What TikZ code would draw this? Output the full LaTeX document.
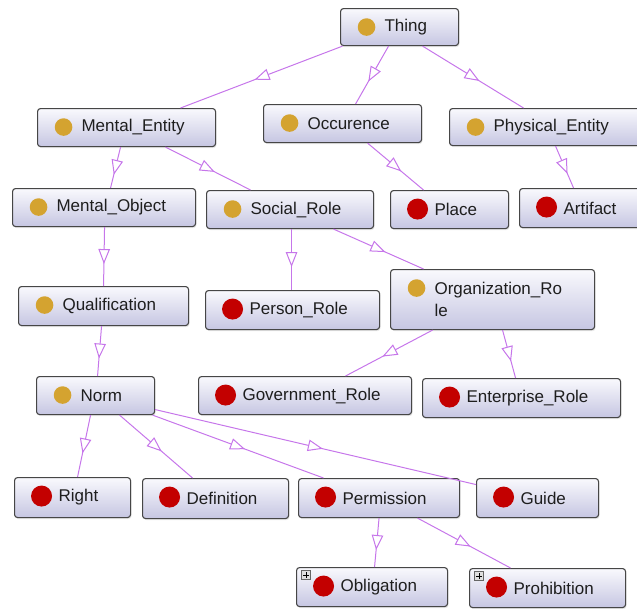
\documentclass[tikz,border=0pt]{standalone}
\usepackage{fontspec}
\setmainfont{Liberation Sans}
\usepackage{tikz}
\usetikzlibrary{arrows.meta, decorations.markings, shadows}
\definecolor{ontoedge}{RGB}{70,70,70}
\definecolor{ontotop}{RGB}{249,249,253}
\definecolor{ontobottom}{RGB}{198,198,226}
\definecolor{isaviolet}{RGB}{198,118,234}
\definecolor{classgold}{RGB}{212,163,48}
\definecolor{indivred}{RGB}{195,0,0}
\definecolor{ontotext}{RGB}{30,30,30}

\tikzset{
  ontobox/.style={rectangle, rounded corners=3pt, draw=ontoedge, line width=1.1pt,
    top color=ontotop, bottom color=ontobottom, anchor=north west,
    drop shadow={opacity=0.18, shadow xshift=1pt, shadow yshift=-1.5pt},
    minimum width=#1, text width=#1, inner xsep=0pt, inner ysep=2pt, minimum height=38pt,
    text=ontotext, font=\fontsize{17}{22}\selectfont,
    execute at begin node={\leftskip=44pt\rightskip=0pt plus 1fil}},
  concept/.style={ontobox=#1, path picture={
      \fill[classgold] ([xshift=26pt,yshift=-18.5pt]path picture bounding box.north west) circle (8.8pt);}},
  indiv/.style={ontobox=#1, path picture={
      \fill[indivred] ([xshift=27pt,yshift=-18.5pt]path picture bounding box.north west) circle (10.5pt);}},
  indivplus/.style={ontobox=#1, path picture={
      \fill[indivred] ([xshift=27pt,yshift=-18.5pt]path picture bounding box.north west) circle (10.5pt);
      \draw[sharp corners, gray!80!black, fill=gray!25, line width=0.7pt] ([xshift=5pt,yshift=-3pt]path picture bounding box.north west) rectangle ++(9pt,-9pt);
      \draw[sharp corners, black, line width=0.9pt] ([xshift=9.5pt,yshift=-4.8pt]path picture bounding box.north west) -- ++(0,-5.4pt)
        ([xshift=6.8pt,yshift=-7.5pt]path picture bounding box.north west) -- ++(5.4pt,0);}},
  isa/.style={draw, color=isaviolet, line width=1pt, postaction={decorate},
    decoration={markings, mark=at position 0.5 with {\arrow[xshift=7.5pt]{Triangle[length=15pt, width=11.5pt, fill=white, line width=1pt]}}}},
}

\begin{document}
\begin{tikzpicture}[x=1pt, y=-1pt]
  \useasboundingbox (0,0) rectangle (637,608);

  % classes
  \node[concept=118pt, minimum height=37pt] (thing) at (340,8) {Thing};
  \node[concept=178pt] (mentalentity) at (37,108) {Mental\_Entity};
  \node[concept=158pt] (occurence) at (263,104) {Occurence};
  \node[concept=195pt, minimum height=37pt] (physicalentity) at (449,108) {Physical\_Entity};
  \node[concept=183pt] (mentalobject) at (12,188) {Mental\_Object};
  \node[concept=167pt] (socialrole) at (206,190) {Social\_Role};
  \node[concept=170pt, minimum height=39pt] (qualification) at (18,286) {Qualification};
  \node[concept=204pt, minimum height=60pt] (orgrole) at (390,269) {Organization\_Ro\\le};
  \node[concept=118pt] (norm) at (36,376) {Norm};

  % individuals
  \node[indiv=118pt] (place) at (390,190) {Place};
  \node[indiv=125pt, minimum height=39pt] (artifact) at (519,188) {Artifact};
  \node[indiv=174pt, minimum height=39pt] (personrole) at (205,290) {Person\_Role};
  \node[indiv=213pt] (govrole) at (198,376) {Government\_Role};
  \node[indiv=198pt, minimum height=39pt] (entrole) at (422,378) {Enterprise\_Role};
  \node[indiv=116pt, minimum height=40pt] (right) at (14,477) {Right};
  \node[indiv=146pt, minimum height=40pt] (definition) at (142,478) {Definition};
  \node[indiv=161pt, minimum height=39pt] (permission) at (298,478) {Permission};
  \node[indiv=122pt, minimum height=39pt] (guide) at (476,478) {Guide};
  \node[indivplus=151pt, minimum height=39pt] (obligation) at (296,567) {Obligation};
  \node[indivplus=156pt, minimum height=39pt] (prohibition) at (469,568) {Prohibition};

  % is-a links
  \draw[isa] ([xshift=-57pt]thing.south) -- ([xshift=54pt]mentalentity.north);
  \draw[isa] ([xshift=-11pt]thing.south) -- ([xshift=13pt]occurence.north);
  \draw[isa] ([xshift=23pt]thing.south) -- ([xshift=-23.5pt]physicalentity.north);
  \draw[isa] ([xshift=-6pt]mentalentity.south) -- ([xshift=6.5pt]mentalobject.north);
  \draw[isa] ([xshift=39pt]mentalentity.south) -- ([xshift=-39.5pt]socialrole.north);
  \draw[isa] ([xshift=25pt]occurence.south) -- ([xshift=-26pt]place.north);
  \draw[isa] ([xshift=8.5pt]physicalentity.south) -- ([xshift=-8.5pt]artifact.north);
  \draw[isa] ([xshift=0.5pt]mentalobject.south) -- (qualification.north);
  \draw[isa] ([xshift=1.5pt]socialrole.south) -- ([xshift=-1pt]personrole.north);
  \draw[isa] ([xshift=43.5pt]socialrole.south) -- ([xshift=-69pt]orgrole.north);
  \draw[isa] ([xshift=-2pt]qualification.south) -- ([xshift=2pt]norm.north);
  \draw[isa] ([xshift=-60pt]orgrole.south) -- ([xshift=40.5pt]govrole.north);
  \draw[isa] ([xshift=10pt]orgrole.south) -- ([xshift=-6pt]entrole.north);
  \draw[isa] ([xshift=-5pt]norm.south) -- ([xshift=5pt]right.north);
  \draw[isa] ([xshift=24pt]norm.south) -- ([xshift=-23pt]definition.north);
  \draw[isa] ([xshift=57pt]norm.south) -- ([xshift=-55.5pt]permission.north);
  \draw[isa] ([yshift=-14pt]norm.east) -- ([yshift=13.5pt]guide.west);
  \draw[isa] (permission.south) -- ([xshift=2.5pt]obligation.north);
  \draw[isa] ([xshift=38.5pt]permission.south) -- ([xshift=-37pt]prohibition.north);
\end{tikzpicture}
\end{document}
